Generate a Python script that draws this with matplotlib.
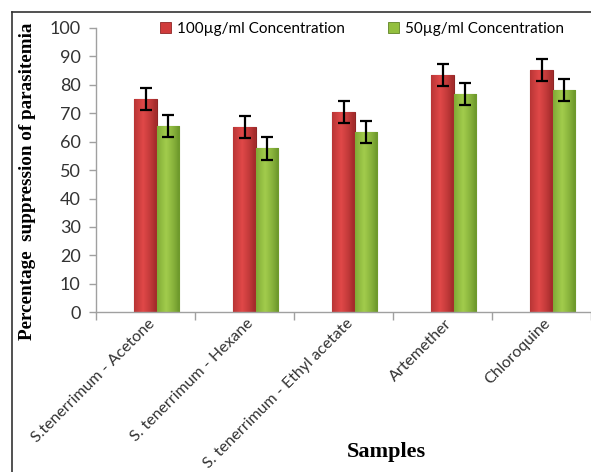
import matplotlib

matplotlib.use("Agg")
import matplotlib.pyplot as plt
import numpy as np
from matplotlib.lines import Line2D
from matplotlib.transforms import ScaledTranslation

samples = ["S.tenerrimum - Acetone", "S. tenerrimum - Hexane",
           "S. tenerrimum - Ethyl acetate", "Artemether", "Chloroquine"]
conc_100 = [75.0, 65.2, 70.4, 83.4, 85.2]
conc_50 = [65.5, 57.6, 63.3, 76.7, 78.1]
err_100 = [3.9, 3.9, 3.8, 3.9, 3.9]
err_50 = [3.9, 3.9, 3.9, 3.9, 3.9]
series_names = ["100µg/ml Concentration", "50µg/ml Concentration"]

W, H = 591, 472
fig = plt.figure(figsize=(W / 100, H / 100), dpi=100)
ax = fig.add_axes([96 / W, 1 - 312.4 / H, 495 / W, (312.4 - 27.7) / H])

x = np.arange(len(samples))
bw = 0.225
ekw = dict(ecolor="black", elinewidth=1.6, capsize=4, capthick=1.6, zorder=4)
b1 = ax.bar(x, conc_100, bw, yerr=err_100, color="#d03c3c", edgecolor="#8e2626",
            linewidth=0.8, error_kw=ekw, label=series_names[0], zorder=2)
b2 = ax.bar(x + bw, conc_50, bw, yerr=err_50, color="#93bf3e", edgecolor="#5f8226",
            linewidth=0.8, error_kw=ekw, label=series_names[1], zorder=2)


def shade(bars, dark, light):
    # horizontal gradient: darker at the edges, lighter just left of centre
    t = np.linspace(0, 1, 64)
    prof = np.clip(1 - np.abs(t - 0.4) * 1.9, 0, 1) ** 0.8
    dark, light = np.array(dark), np.array(light)
    img = dark[None, :] + (light - dark)[None, :] * prof[:, None]
    img = img[None, :, :]
    for b in bars:
        x0, y0 = b.get_x(), b.get_y()
        im = ax.imshow(img, extent=(x0, x0 + b.get_width(), y0, y0 + b.get_height()),
                       aspect="auto", zorder=2.5, interpolation="bilinear")
        im.set_clip_path(b)


shade(b1, matplotlib.colors.to_rgb("#a52c2c"), matplotlib.colors.to_rgb("#e04848"))
shade(b2, matplotlib.colors.to_rgb("#6f9a2c"), matplotlib.colors.to_rgb("#a2cc4c"))

ax.set_xlim(-0.5, 4.5)
ax.set_ylim(0, 100)
ax.set_yticks(range(0, 101, 10))
ax.set_xticks(x)
ax.set_xticks(np.arange(-0.5, 4.6, 1), minor=True)
ax.tick_params(axis="x", which="major", length=0, pad=0)
ax.tick_params(axis="x", which="minor", length=6, color="#a0a0a0", width=1)
ax.tick_params(axis="y", length=5, color="#a0a0a0", width=1, labelsize=13,
               labelcolor="#333333", pad=6)
for lab in ax.get_yticklabels():
    lab.set_fontfamily("Lato")

ax.set_xticklabels(samples, rotation=45, ha="right", va="top",
                   rotation_mode="anchor", fontsize=11.5, color="#333333",
                   family="Lato")
off = ScaledTranslation(2 / 100, -4 / 100, fig.dpi_scale_trans)
for lab in ax.get_xticklabels():
    lab.set_transform(lab.get_transform() + off)

for s in ("top", "right"):
    ax.spines[s].set_visible(False)
for s in ("left", "bottom"):
    ax.spines[s].set_color("#a0a0a0")
    ax.spines[s].set_linewidth(1)

fig.text(28 / W, 1 - 181 / H, "Percentage  suppression of parasitemia",
         rotation=90, ha="center", va="center", fontsize=13.8,
         fontweight="bold", family="Liberation Serif")
fig.text(386 / W, 1 - 452 / H, "Samples", ha="center", va="center",
         fontsize=16, fontweight="bold", family="Liberation Serif")

leg = fig.legend(handles=[b1, b2], labels=series_names, loc="center",
                 bbox_to_anchor=(362 / W, 1 - 29 / H), ncol=2, frameon=False,
                 handlelength=0.7, handleheight=0.7, handletextpad=0.4,
                 columnspacing=2.8, prop={"family": "Lato", "size": 11})
for h in leg.legend_handles:
    h.set_linewidth(0.6)

fig.add_artist(Line2D([11.5 / W, 11.5 / W], [0, 1 - 11.5 / H], color="#333333",
                      lw=1.2, transform=fig.transFigure))
fig.add_artist(Line2D([11.5 / W, 1], [1 - 11.5 / H, 1 - 11.5 / H], color="#333333",
                      lw=1.2, transform=fig.transFigure))

fig.savefig("out.png", dpi=100)
